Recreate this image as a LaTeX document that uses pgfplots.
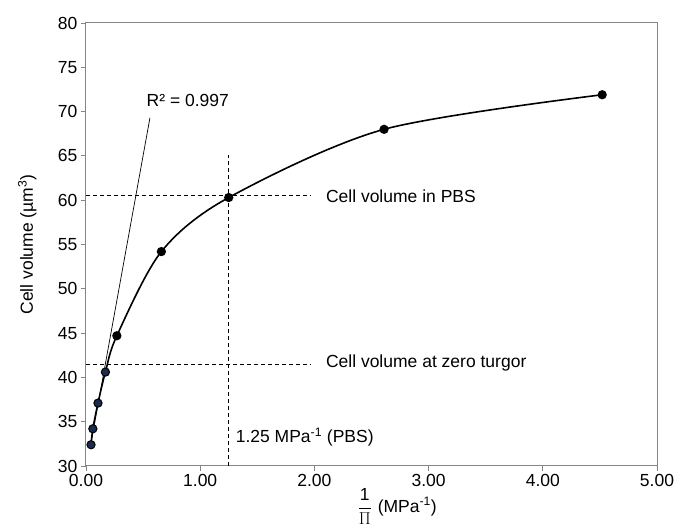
\documentclass[border=0pt]{standalone}
\usepackage{amsmath}
\usepackage{pgfplots}
\pgfplotsset{compat=1.18}
\usetikzlibrary{calc}
\usepackage{fontspec}
\setmainfont{Liberation Sans}
\definecolor{framegray}{HTML}{858585}
\definecolor{navypt}{HTML}{1B2A4E}
\newcommand{\lbl}{\fontsize{17.5}{20}\selectfont}

\begin{document}
\begin{tikzpicture}
\begin{axis}[
  name=ax, at={(0,0)}, anchor=south west,
  scale only axis, width=571pt, height=443pt,
  xmin=0, xmax=5, ymin=30, ymax=80,
  xtick={0,1,2,3,4,5}, ytick={30,35,...,80},
  xticklabel style={/pgf/number format/.cd,fixed,fixed zerofill,precision=2},
  /pgf/number format/assume math mode=true,
  tick label style={font=\lbl, text=black},
  tick align=outside, tick pos=left,
  major tick length=5pt,
  axis line style={framegray, line width=1pt},
  every tick/.style={framegray, line width=0.8pt},
  xlabel={$\dfrac{\text{1}}{\Pi}$\,\,(MPa\textsuperscript{-1})},
  ylabel={Cell volume (µm\textsuperscript{3})},
  label style={font=\lbl},
  xlabel style={at={(axis description cs:0.545,0)}, anchor=north, yshift=-19pt},
  ylabel style={at={(axis description cs:0,0.5)}, anchor=south, xshift=0pt, yshift=46pt},
  clip=false,
]
% reference lines
\addplot[black, dash pattern=on 4pt off 3pt, line width=0.9pt] coordinates {(0,60.5)(1.97,60.5)};
\addplot[black, dash pattern=on 4pt off 3pt, line width=0.9pt] coordinates {(0,41.5)(1.97,41.5)};
\addplot[black, dash pattern=on 4pt off 3pt, line width=0.9pt] coordinates {(1.25,30)(1.25,65.1)};
% linear fit through the low points
\addplot[black, line width=0.7pt] coordinates {(0.04,32.3)(0.56,69.3)};
% smooth curve with markers
\addplot[black, line width=1.6pt, smooth, tension=0.5, mark=*, mark size=3.8pt,
  mark options={fill=black}] coordinates {
(0.044,32.4)(0.06,34.2)(0.105,37.1)(0.17,40.6)(0.27,44.7)(0.66,54.2)(1.25,60.3)(2.61,68.0)(4.52,71.9)};
\addplot[only marks, mark=*, mark size=3.8pt, draw=black, fill=navypt] coordinates {
(0.044,32.4)(0.06,34.2)(0.105,37.1)(0.17,40.6)};
\node[anchor=west, font=\lbl, inner sep=0pt] at (axis cs:2.10,60.5) {Cell volume in PBS};
\node[anchor=west, font=\lbl, inner sep=0pt] at (axis cs:2.10,41.6) {Cell volume at zero turgor};
\node[anchor=west, font=\lbl, inner sep=0pt] at (axis cs:1.31,33.3) {1.25 MPa\textsuperscript{-1} (PBS)};
\node[anchor=west, font=\lbl, inner sep=0pt] at (axis cs:0.53,71.3) {R² = 0.997};
\end{axis}
\pgfresetboundingbox
\path[use as bounding box] ($(ax.south west)+(-86pt,-64pt)$) rectangle ($(ax.north east)+(20pt,23pt)$);
\end{tikzpicture}
\end{document}
